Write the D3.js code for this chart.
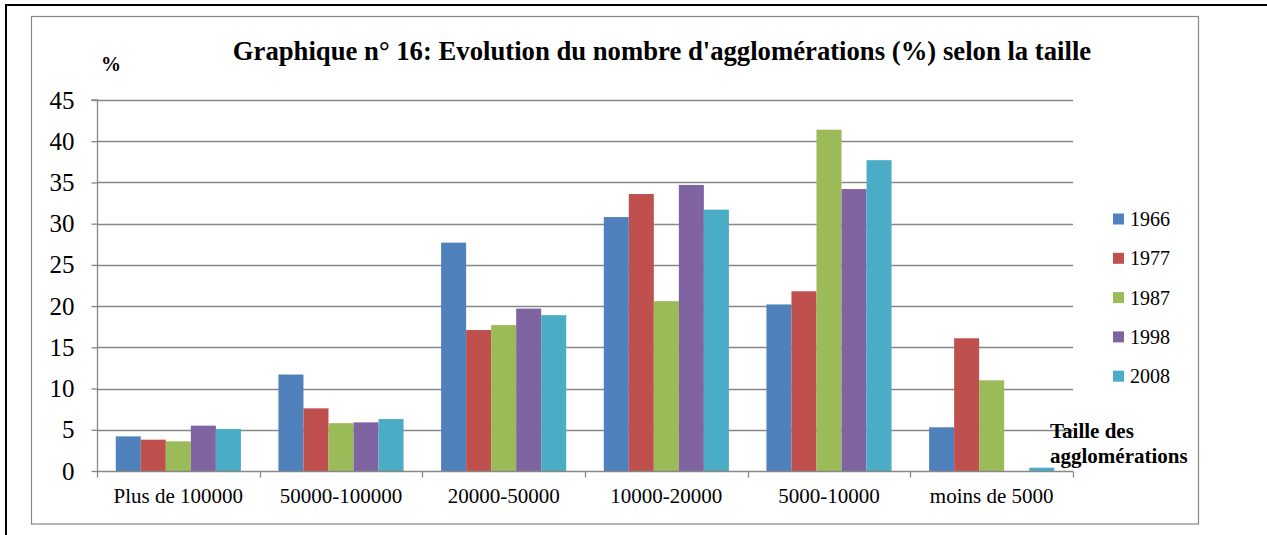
<!DOCTYPE html>
<html>
<head>
<meta charset="utf-8">
<script src="https://cdn.jsdelivr.net/npm/d3@7/dist/d3.min.js"></script>
<style>
  html, body { margin: 0; padding: 0; background: #fff; }
  svg { display: block; }
  text { font-family: "Liberation Serif", "Times New Roman", serif; fill: #000; }
</style>
</head>
<body>
<svg id="chart" width="1267" height="535"></svg>
<script>
// Size classes of agglomerations
const categories = ["Plus de 100000", "50000-100000", "20000-50000", "10000-20000", "5000-10000", "moins de 5000"];
// Census years
const years = ["1966", "1977", "1987", "1998", "2008"];
// Share (%) of agglomerations per size class, one array per year
const values1966 = [4.2, 11.7, 27.7, 30.8, 20.2, 5.3];
const values1977 = [3.8, 7.6, 17.1, 33.6, 21.8, 16.1];
const values1987 = [3.6, 5.8, 17.7, 20.6, 41.4, 11.0];
const values1998 = [5.5, 5.9, 19.7, 34.7, 34.2, 0];
const values2008 = [5.1, 6.3, 18.9, 31.7, 37.7, 0.4];
const yTicks = [0, 5, 10, 15, 20, 25, 30, 35, 40, 45];
const colors = ["#4F81BD", "#C0504D", "#9BBB59", "#8064A2", "#4BACC6"];

const seriesValues = [values1966, values1977, values1987, values1998, values2008];

const svg = d3.select("#chart");
const gridColor = "#878787";

// page frame (black rules along top and left)
svg.append("path")
  .attr("d", "M6,535 V5 H1267")
  .attr("fill", "none").attr("stroke", "#000").attr("stroke-width", 2);

// chart box
svg.append("rect")
  .attr("x", 31.5).attr("y", 16.5).attr("width", 1167).attr("height", 507.5)
  .attr("fill", "#fff").attr("stroke", gridColor).attr("stroke-width", 1.2);

const plot = { left: 97, right: 1073, top: 100, bottom: 471 };

const y = d3.scaleLinear().domain([0, 45]).range([plot.bottom, plot.top]);
const x0 = d3.scaleBand().domain(categories).range([plot.left, plot.right]).paddingInner(0).paddingOuter(0);
const bw = x0.bandwidth();
const gap = bw * 0.75 / 6.5;
const x1 = d3.scaleBand().domain(years).range([gap, bw - gap]).padding(0);

// horizontal gridlines
svg.append("g")
  .selectAll("line")
  .data(yTicks.filter(t => t > 0))
  .join("line")
  .attr("x1", plot.left).attr("x2", plot.right)
  .attr("y1", d => Math.round(y(d)) + 0.5).attr("y2", d => Math.round(y(d)) + 0.5)
  .attr("stroke", gridColor).attr("stroke-width", 1.3);

// bars
const groups = svg.append("g")
  .selectAll("g")
  .data(categories)
  .join("g")
  .attr("transform", d => `translate(${x0(d)},0)`);

groups.selectAll("rect")
  .data((c, ci) => years.map((yr, si) => ({ yr, si, v: seriesValues[si][ci] })))
  .join("rect")
  .attr("x", d => x1(d.yr))
  .attr("width", x1.bandwidth())
  .attr("y", d => y(d.v))
  .attr("height", d => y(0) - y(d.v))
  .attr("fill", d => colors[d.si]);

// y axis
const yAxis = d3.axisLeft(y).tickValues(yTicks).tickSize(6).tickPadding(17).tickFormat(d3.format("d"));
const yg = svg.append("g").attr("transform", `translate(${plot.left + 0.5},0)`).call(yAxis);
yg.select(".domain").attr("stroke", gridColor).attr("stroke-width", 1.3).attr("d", `M-6,${plot.top}H0V${plot.bottom}`);
yg.selectAll(".tick line").attr("stroke", gridColor).attr("stroke-width", 1.3);
yg.selectAll(".tick text").attr("font-size", 25).attr("font-family", "Liberation Serif, serif").attr("fill", "#000");

// x axis with tick marks at category boundaries
const xg = svg.append("g").attr("transform", `translate(0,${plot.bottom + 0.5})`);
xg.append("line").attr("x1", plot.left).attr("x2", plot.right)
  .attr("stroke", gridColor).attr("stroke-width", 1.3);
const bounds = categories.map(c => x0(c)).concat([plot.right]);
xg.selectAll("line.tk").data(bounds).join("line").attr("class", "tk")
  .attr("x1", d => Math.round(d) + 0.5).attr("x2", d => Math.round(d) + 0.5)
  .attr("y1", 0).attr("y2", 6)
  .attr("stroke", gridColor).attr("stroke-width", 1.3);
xg.selectAll("text").data(categories).join("text")
  .attr("x", d => x0(d) + bw / 2)
  .attr("y", 31)
  .attr("text-anchor", "middle")
  .attr("font-size", 21)
  .text(d => d);

// title
svg.append("text")
  .attr("x", 662).attr("y", 60)
  .attr("text-anchor", "middle")
  .attr("font-size", 26.7).attr("font-weight", "bold")
  .text("Graphique n° 16: Evolution du nombre d'agglomérations (%) selon la taille");

// unit label
svg.append("text")
  .attr("x", 101).attr("y", 71)
  .attr("font-size", 20).attr("font-weight", "bold")
  .text("%");

// axis caption
const cap = svg.append("text").attr("font-size", 21).attr("font-weight", "bold");
cap.append("tspan").attr("x", 1050).attr("y", 438).text("Taille des");
cap.append("tspan").attr("x", 1050).attr("y", 463).text("agglomérations");

// legend
const legend = svg.append("g").attr("transform", "translate(1113,219)");
const li = legend.selectAll("g").data(years).join("g")
  .attr("transform", (d, i) => `translate(0,${i * 39.3})`);
li.append("rect").attr("x", 0).attr("y", -5.5).attr("width", 11).attr("height", 11)
  .attr("fill", (d, i) => colors[i]);
li.append("text").attr("x", 17).attr("y", 0).attr("dy", "0.35em")
  .attr("font-size", 20).text(d => d);
</script>
</body>
</html>
